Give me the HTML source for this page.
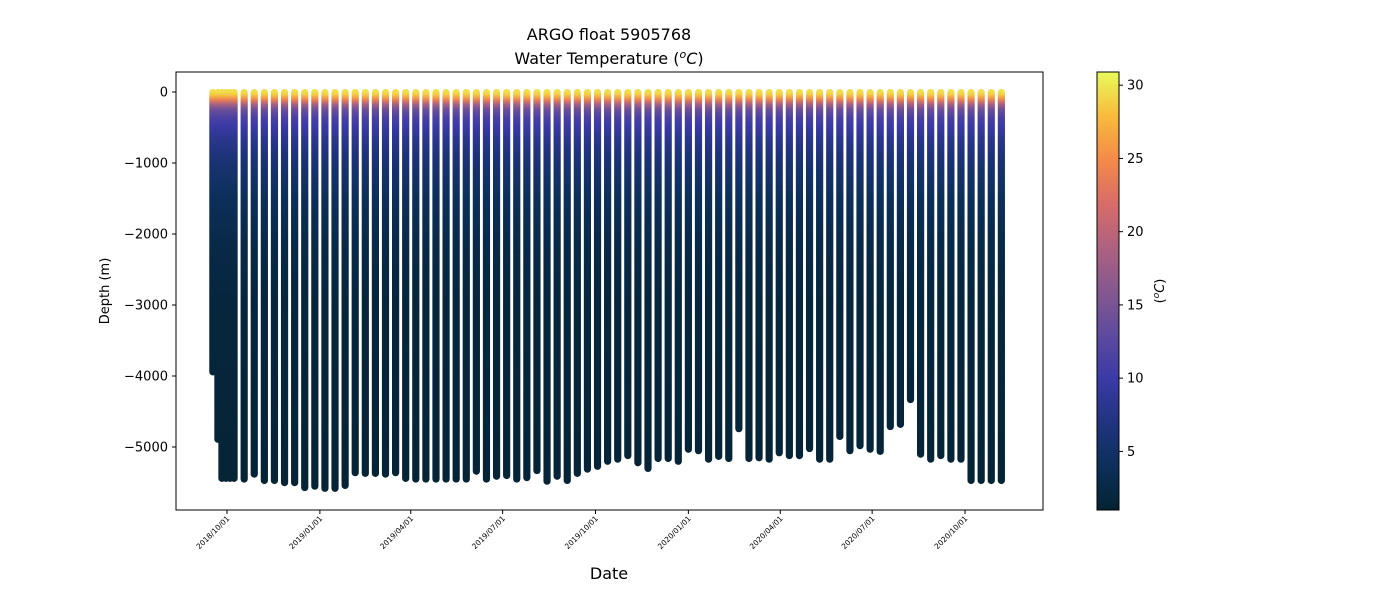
<!DOCTYPE html>
<html><head><meta charset="utf-8"><style>
body{margin:0;background:#fff}
svg{display:block;font-family:"DejaVu Sans","Liberation Sans",sans-serif}
</style></head><body>
<svg id="chart" width="1400" height="600" viewBox="0 0 1400 600">
<defs>
<linearGradient id="cbar" x1="0" y1="1" x2="0" y2="0">
<stop offset="0" stop-color="#042333"/>
<stop offset="0.1" stop-color="#0c2f5a"/>
<stop offset="0.2" stop-color="#20347f"/>
<stop offset="0.3" stop-color="#3b3aa6"/>
<stop offset="0.4" stop-color="#5e4a9e"/>
<stop offset="0.5" stop-color="#85588f"/>
<stop offset="0.6" stop-color="#ae6180"/>
<stop offset="0.7" stop-color="#d86c68"/>
<stop offset="0.8" stop-color="#f48a48"/>
<stop offset="0.9" stop-color="#f8bb3c"/>
<stop offset="1" stop-color="#e8fa5b"/>
</linearGradient>
<linearGradient id="prof" gradientUnits="userSpaceOnUse" x1="0" y1="89" x2="0" y2="450">
</linearGradient>
<clipPath id="plotclip"><rect x="176" y="72" width="867" height="438"/></clipPath>
</defs>
<text x="609" y="40" text-anchor="middle" font-size="16">ARGO float 5905768</text>
<text x="609" y="64" text-anchor="middle" font-size="16">Water Temperature (<tspan font-style="italic" dy="-6" font-size="11">o</tspan><tspan font-style="italic" dy="6">C</tspan>)</text>
<g id="profiles" clip-path="url(#plotclip)"></g>
<rect x="176" y="72" width="867" height="438" fill="none" stroke="#000" stroke-width="1"/>
<g id="yaxis"></g>
<g id="xaxis"></g>
<text transform="translate(109,291) rotate(-90)" text-anchor="middle" font-size="13">Depth (m)</text>
<text x="609" y="579" text-anchor="middle" font-size="16">Date</text>
<rect x="1097" y="72" width="22" height="438" fill="url(#cbar)" stroke="#000" stroke-width="1"/>
<g id="cbaxis"></g>
<text transform="translate(1164,291) rotate(-90)" text-anchor="middle" font-size="13">(<tspan font-style="italic" dy="-5" font-size="9">o</tspan><tspan font-style="italic" dy="5">C</tspan>)</text>
</svg>
<script>
// Profile dates: days since 2018-10-01
const profileDays = [-14,-9,-5,-1,3,7,17,27,37,47,57,67,77,87,97,107,117,127,137,147,157,167,177,187,197,207,217,227,237,247,257,267,277,287,297,307,317,327,337,347,357,367,377,387,397,407,417,427,437,447,457,467,477,487,497,507,517,527,537,547,557,567,577,587,597,607,617,627,637,647,657,667,677,687,697,707,717,727,737,747,757,767];
// Maximum depth of each profile (m)
const maxDepths = [3950,4900,5450,5450,5450,5450,5460,5390,5480,5480,5510,5510,5580,5560,5590,5590,5550,5370,5380,5380,5390,5370,5450,5460,5460,5460,5460,5460,5460,5350,5460,5420,5410,5460,5440,5340,5490,5420,5480,5380,5320,5280,5210,5180,5130,5230,5310,5170,5170,5210,5040,5060,5180,5140,5170,4750,5170,5160,5180,5090,5130,5130,5030,5180,5180,4860,5060,4990,5040,5070,4720,4690,4340,5110,5180,5130,5180,5180,5480,5480,5480,5480];
// Typical temperature profile (depth m, temperature C)
const profDepth = [0,40,110,180,250,350,470,680,900,1100,1500,2200,3000,5600];
const profTemp = [29.5,28.5,24,18,14,11.5,10,8,6.5,5.5,4,2.5,1.8,1.2];
const yTicks = [0,-1000,-2000,-3000,-4000,-5000];
const xTickLabels = ["2018/10/01","2019/01/01","2019/04/01","2019/07/01","2019/10/01","2020/01/01","2020/04/01","2020/07/01","2020/10/01"];
const xTickDays = [0,92,182,273,365,457,548,639,731];
const cbTicks = [5,10,15,20,25,30];

const NS="http://www.w3.org/2000/svg";
const xS = d => 227 + d*1.0096;
const yS = m => 92 - m*0.071;
const cS = t => 510 - (t-1.0)*(438/29.9);
const cmap = ["#042333","#0c2f5a","#20347f","#3b3aa6","#5e4a9e","#85588f","#ae6180","#d86c68","#f48a48","#f8bb3c","#e8fa5b"];
function tcol(t){let f=(t-1.0)/29.9;f=Math.max(0,Math.min(1,f))*10;const i=Math.min(9,Math.floor(f));const r=f-i;
 const a=cmap[i],b=cmap[i+1];const p=(h,k)=>parseInt(h.substr(k,2),16);
 const c=[1,3,5].map(k=>Math.round(p(a,k)*(1-r)+p(b,k)*r));return `rgb(${c.join(',')})`;}
function mk(tag,attrs,parent){const e=document.createElementNS(NS,tag);for(const k in attrs)e.setAttribute(k,attrs[k]);parent.appendChild(e);return e;}

const g=document.getElementById('prof');
g.setAttribute('y1',yS(0)); g.setAttribute('y2',yS(-5600));
profDepth.forEach((d,i)=>{mk('stop',{offset:d/5600,'stop-color':tcol(profTemp[i])},g);});

const P=document.getElementById('profiles');
profileDays.forEach((d,i)=>{
  const x=xS(d), y0=yS(0)-3, y1=yS(-maxDepths[i])+3;
  const r=mk('rect',{x:x-3.6,y:y0,width:7.2,height:y1-y0,rx:3.6,fill:'url(#prof)'},P);
  
  
});

const Y=document.getElementById('yaxis');
yTicks.forEach(v=>{const y=yS(v);
  mk('line',{x1:172,x2:176,y1:y,y2:y,stroke:'#000'},Y);
  const t=mk('text',{x:168,y:y+4.5,'text-anchor':'end','font-size':13},Y);
  t.textContent=v===0?'0':'\u2212'+Math.abs(v);
  
  
});
const X=document.getElementById('xaxis');
xTickDays.forEach((d,i)=>{const x=xS(d);
  mk('line',{x1:x,x2:x,y1:510,y2:514,stroke:'#000'},X);
  const t=mk('text',{transform:`translate(${x+3},519) rotate(-45)`,'text-anchor':'end','font-size':7.5},X);
  t.textContent=xTickLabels[i];
  
  
});
const C=document.getElementById('cbaxis');
cbTicks.forEach(v=>{const y=cS(v);
  mk('line',{x1:1119,x2:1123,y1:y,y2:y,stroke:'#000'},C);
  const t=mk('text',{x:1127,y:y+4.5,'font-size':13},C);
  t.textContent=v;
  
  
});
</script>
</body></html>
